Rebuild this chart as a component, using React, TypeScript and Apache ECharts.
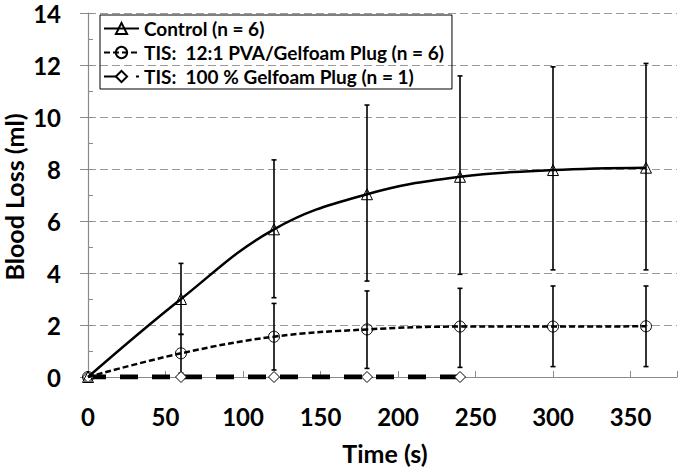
import React, { useEffect, useRef } from "react";
import * as echarts from "echarts";

const timePoints = [0, 60, 120, 180, 240, 300, 360];
const controlMean = [0, 3.0, 5.68, 7.03, 7.7, 7.96, 8.05];
const controlLow = [0, 1.64, 3.05, 3.69, 3.95, 4.12, 4.12];
const controlHigh = [0, 4.37, 8.35, 10.46, 11.58, 11.93, 12.06];
const pvaMean = [0, 0.91, 1.55, 1.83, 1.94, 1.94, 1.95];
const pvaLow = [0, 0.15, 0.27, 0.33, 0.37, 0.4, 0.4];
const pvaHigh = [0, 1.64, 2.83, 3.31, 3.41, 3.5, 3.5];
const gelTime = [0, 60, 120, 180, 240];
const gelMean = [0, 0, 0, 0, 0];

const seriesNames = [
  "Control (n = 6)",
  "TIS:\u00a0 12:1 PVA/Gelfoam Plug (n = 6)",
  "TIS:\u00a0 100 % Gelfoam Plug (n = 1)",
];

const FONT = "Lato";

function errorSeries(low: number[], high: number[]) {
  const data = timePoints
    .map((t, i) => [t, low[i], high[i]])
    .filter((d) => d[2] > d[1]);
  return {
    type: "custom",
    z: 1,
    silent: true,
    data,
    encode: { x: 0, y: [1, 2] },
    renderItem: (params: any, api: any) => {
      const x = api.value(0);
      const p1 = api.coord([x, api.value(1)]);
      const p2 = api.coord([x, api.value(2)]);
      const w = 2.5;
      const style = { stroke: "#000", lineWidth: 1.6 };
      return {
        type: "group",
        children: [
          { type: "line", shape: { x1: p1[0], y1: p1[1], x2: p2[0], y2: p2[1] }, style },
          { type: "line", shape: { x1: p1[0] - w, y1: p1[1], x2: p1[0] + w, y2: p1[1] }, style },
          { type: "line", shape: { x1: p2[0] - w, y1: p2[1], x2: p2[0] + w, y2: p2[1] }, style },
        ],
      };
    },
  };
}

export default function App() {
  const ref = useRef<HTMLDivElement>(null);
  useEffect(() => {
    if (!ref.current) return;
    const chart = echarts.init(ref.current, undefined, { renderer: "svg" });
    chart.setOption({
      animation: false,
      backgroundColor: "#fff",
      grid: { left: 88, top: 13, bottom: 92, right: 0 },
      legend: {
        left: 100,
        top: 15,
        orient: "vertical",
        data: seriesNames,
        borderColor: "#000",
        borderWidth: 1,
        padding: [4, 8, 3, 3],
        itemGap: 5,
        itemWidth: 35,
        itemHeight: 14,
        textStyle: { fontFamily: FONT, fontWeight: "bold", fontSize: 19, color: "#000" },
      },
      xAxis: {
        type: "value",
        min: 0,
        max: 380,
        interval: 50,
        axisLine: { lineStyle: { color: "#8a8a8a", width: 1.2 } },
        axisTick: { show: true, inside: true, length: 6, lineStyle: { color: "#8a8a8a" } },
        splitLine: { show: false },
        axisLabel: {
          margin: 27,
          fontFamily: FONT,
          fontWeight: "bold",
          fontSize: 24,
          color: "#000",
          formatter: (v: number) => (v % 50 === 0 ? String(v) : ""),
        },
      },
      yAxis: [
        {
          type: "value",
          min: 0,
          max: 14,
          interval: 2,
          axisLine: { show: true, lineStyle: { color: "#8a8a8a", width: 1.2 } },
          axisTick: { show: true, length: 8, lineStyle: { color: "#8a8a8a" } },
          splitLine: { show: true, lineStyle: { color: "#9a9a9a", type: [8, 4], width: 1.2 } },
          axisLabel: {
            margin: 27,
            fontFamily: FONT,
            fontWeight: "bold",
            fontSize: 24,
            color: "#000",
          },
        },
        {
          type: "value",
          min: 0,
          max: 14,
          interval: 1,
          position: "left",
          offset: 0,
          axisLine: { show: false },
          axisTick: { show: true, inside: true, length: 5, lineStyle: { color: "#8a8a8a" } },
          splitLine: { show: false },
          axisLabel: { show: false },
        },
      ],
      graphic: [
        {
          type: "text",
          x: 14,
          y: 197,
          rotation: Math.PI / 2,
          style: {
            text: "Blood Loss (ml)",
            fontFamily: FONT,
            fontWeight: "bold",
            fontSize: 25,
            fill: "#000",
            textAlign: "center",
            textVerticalAlign: "middle",
          },
        },
        {
          type: "text",
          x: 385,
          y: 453,
          style: {
            text: "Time (s)",
            fontFamily: FONT,
            fontWeight: "bold",
            fontSize: 25,
            fill: "#000",
            textAlign: "center",
            textVerticalAlign: "middle",
          },
        },
      ],
      series: [
        errorSeries(controlLow, controlHigh),
        errorSeries(pvaLow, pvaHigh),
        {
          name: seriesNames[0],
          type: "line",
          z: 3,
          smooth: 0.4,
          data: timePoints.map((t, i) => [t, controlMean[i]]),
          symbol: "triangle",
          symbolSize: 11,
          lineStyle: { color: "#000", width: 2.5 },
          itemStyle: { color: "rgba(255,255,255,0)", borderColor: "#000", borderWidth: 1 },
        },
        {
          name: seriesNames[1],
          type: "line",
          z: 3,
          smooth: 0.4,
          data: timePoints.map((t, i) => [t, pvaMean[i]]),
          symbol: "circle",
          symbolSize: 11,
          lineStyle: { color: "#000", width: 2.5, type: [6, 3] },
          itemStyle: { color: "rgba(255,255,255,0)", borderColor: "#000", borderWidth: 1 },
        },
        {
          name: seriesNames[2],
          type: "line",
          z: 2,
          data: gelTime.map((t, i) => [t, gelMean[i]]),
          symbol: "diamond",
          symbolSize: 11,
          lineStyle: { color: "#000", width: 5, type: [18, 14], cap: "butt" },
          itemStyle: { color: "#fff", borderColor: "#000", borderWidth: 1 },
        },
      ],
    });
    return () => chart.dispose();
  }, []);
  return (
    <div
      ref={ref}
      style={{ position: "fixed", left: 0, top: 0, width: 680, height: 469 }}
    />
  );
}
